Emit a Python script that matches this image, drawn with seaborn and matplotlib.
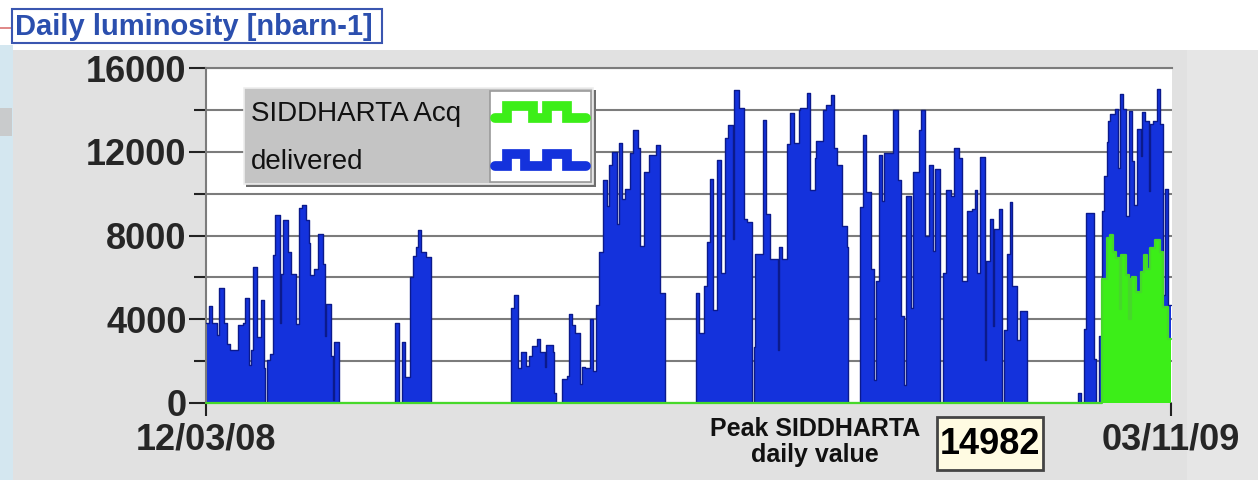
import numpy as np
import pandas as pd
import matplotlib
matplotlib.use("Agg")
import matplotlib.pyplot as plt
import seaborn as sns
from matplotlib.patches import Rectangle
from matplotlib.lines import Line2D

# ---------------- data ----------------
start_date = "2008-03-12"
end_date = "2009-11-03"

# delivered luminosity: day offset where a level starts, and the level
delivered_days = [0, 2, 4, 7, 8, 11, 13, 15, 20, 23, 24, 27, 28, 29, 32, 34, 36, 37, 38, 40, 42,
                  43, 46, 47, 48, 51, 53, 56, 58, 60, 62, 64, 65, 67, 70, 73, 74, 75, 78, 79, 80, 83,
                  118, 120, 122, 124, 127, 129, 131, 132, 134, 137, 140,
                  190, 192, 194, 196, 199, 201, 203, 206, 208, 211, 212, 216, 217, 218,
                  222, 225, 226, 228, 230, 233, 234, 236, 239, 241, 243, 245, 247, 250, 251, 253,
                  256, 257, 259, 261, 264, 266, 269, 270, 273, 276, 280, 283, 286,
                  305, 307, 310, 312, 314, 316, 318, 321, 323, 325, 328, 329, 332, 335, 337, 340,
                  341, 342, 347, 349, 351, 356, 357, 359, 362, 364, 366, 369, 370, 374, 376, 379,
                  380, 384, 386, 389, 391, 393, 396, 399, 400,
                  407, 409, 411, 414, 416, 417, 419, 421, 422, 428, 431, 433, 435, 436, 439, 440,
                  444, 445, 448, 450, 453, 454, 457, 459, 461, 464, 466, 469, 471, 474, 477, 479,
                  480, 482, 485, 486, 488, 490, 491, 494, 496, 497, 499, 501, 502, 505, 507, 511,
                  543, 545, 547, 548, 553, 554, 556, 558, 559, 561, 562, 563, 566, 568, 569, 571,
                  573, 575, 577, 578, 580, 582, 583, 585, 587, 588, 590, 592, 594, 596, 597, 599]
delivered_values = [3840, 4610, 3840, 3230, 5480, 3840, 2840, 2550, 3710, 3840, 5000, 1800, 2550, 6500, 3160, 4930, 1660, 0, 2060, 2350, 7060,
                    8970, 3840, 6180, 8760, 7190, 6180, 3760, 9290, 9450, 8760, 7630, 6100, 6390, 8070, 6660, 3190, 4730, 2230, 130, 2920, 0,
                    3810, 0, 2920, 1260, 6010, 7040, 7440, 8240, 7200, 6960, 0,
                    4550, 5160, 1690, 2450, 1770, 2230, 2740, 3060, 2450, 1740, 2770, 2450, 480, 0,
                    1130, 1290, 4230, 3710, 3350, 890, 1740, 1650, 4030, 1530, 4680, 7190, 10630, 9430, 11360, 12000,
                    8550, 12400, 9750, 10230, 11920, 13040, 12160, 7510, 11040, 11840, 12320, 5260, 0,
                    5260, 3340, 5580, 7670, 10710, 4460, 11600, 6220, 12640, 13280, 7830, 14950, 14080, 8790, 8630, 0,
                    2690, 7110, 13520, 9030, 6870, 2530, 7430, 6870, 12350, 13840, 12400, 14000, 14080, 14800, 10150, 11680,
                    12510, 14000, 14240, 14720, 12160, 11360, 8470, 7430, 0,
                    9350, 12800, 10070, 6380, 1090, 5820, 11840, 9670, 11920, 14000, 10630, 4140, 850, 9910, 4540, 11040,
                    13040, 14000, 7990, 11360, 7270, 11160, 0, 6220, 10150, 9910, 12160, 11680, 5820, 9190, 9270, 10150,
                    6220, 11760, 2050, 6790, 8790, 3660, 8310, 9270, 0, 3500, 7110, 9590, 5580, 3020, 4380, 0,
                    480, 0, 3530, 9070, 2090, 0, 3210, 9150, 10840, 12450, 13490, 13810, 14020, 11240, 14780, 14050,
                    8910, 13970, 11560, 9480, 13090, 11800, 13890, 13490, 10120, 13330, 13490, 14982, 13330, 5140, 10200, 4660]

# SIDDHARTA acquired luminosity
acq_days = [0, 558, 561, 563, 565, 567, 569, 570, 573, 575, 576, 577, 579, 582, 584, 586, 588, 591, 594, 596, 599]
acq_values = [0, 5940, 7870, 8030, 7230, 6910, 4500, 7070, 6100, 4000, 5940, 6020, 5300, 6260, 7070, 6420, 7390, 7790, 7230, 4580, 3050]

y_major = [0, 4000, 8000, 12000, 16000]
y_minor = [2000, 6000, 10000, 14000]
y_labels = ["0", "4000", "8000", "12000", "16000"]
x_labels = ["12/03/08", "03/11/09"]
legend_labels = ["SIDDHARTA Acq", "delivered"]
title = "Daily luminosity [nbarn-1]"
peak_label = "Peak SIDDHARTA\ndaily value"
peak_value = "14982"

# ---------------- style ----------------
sns.set_style("white")
plt.rcParams["font.family"] = ["Liberation Sans", "DejaVu Sans"]

BLUE = "#1432dc"
BLUE_EDGE = "#0b1a8c"
GREEN = "#3cee18"
GREEN_EDGE = "#46d82a"
GRID = "#7c7c7c"
PANEL = "#e1e1e1"

W, H = 1258, 480
fig = plt.figure(figsize=(W / 100, H / 100), dpi=100)
fig.patch.set_facecolor("white")

# background decorations (pixel coordinate canvas)
bg = fig.add_axes([0, 0, 1, 1], zorder=0)
bg.set_xlim(0, W)
bg.set_ylim(H, 0)
bg.axis("off")
bg.add_patch(Rectangle((0, 45), 13, H - 45, color="#d4e7f0", lw=0))
bg.add_patch(Rectangle((0, 108), 12, 28, color="#c9cbcc", lw=0))
bg.add_patch(Rectangle((0, 27), 11, 2, color="#e08a8a", lw=0))
bg.add_patch(Rectangle((13, 50), W - 13, H - 50, color=PANEL, lw=0))
bg.add_patch(Rectangle((1187, 50), W - 1187, H - 50, color="#e6e6e6", lw=0))

# ---------------- main chart ----------------
end_day = (pd.Timestamp(end_date) - pd.Timestamp(start_date)).days
ax = fig.add_axes([206 / W, (H - 403) / H, (1172 - 206) / W, (403 - 68) / H], zorder=1)
ax.set_facecolor("white")

dx = np.array(delivered_days + [end_day], dtype=float)
dy = np.array(delivered_values + [delivered_values[-1]], dtype=float)
gx = np.array(acq_days + [end_day], dtype=float)
gy = np.array(acq_values + [acq_values[-1]], dtype=float)

ax.fill_between(dx, dy, step="post", color=BLUE, lw=0, zorder=2)
sns.lineplot(x=dx, y=dy, drawstyle="steps-post", color=BLUE_EDGE, lw=1.0,
             estimator=None, sort=False, ax=ax, zorder=3)
ax.fill_between(gx, gy, step="post", color=GREEN, lw=0, zorder=4)
sns.lineplot(x=gx, y=gy, drawstyle="steps-post", color=GREEN_EDGE, lw=1.6,
             estimator=None, sort=False, ax=ax, zorder=5, clip_on=False)

ax.set_xlim(0, end_day + 0.6)
ax.set_ylim(0, 16000)

ax.set_yticks(y_major)
ax.set_yticks(y_minor, minor=True)
ax.set_yticklabels(y_labels, fontsize=26, fontweight="bold", family="Liberation Sans")
ax.set_xticks([0, end_day])
ax.set_xticklabels(x_labels, fontsize=26, fontweight="bold", family="Liberation Sans")
ax.set_xlabel("")
ax.set_ylabel("")

ax.yaxis.grid(True, which="both", color=GRID, lw=1.5)
ax.xaxis.grid(False)
ax.set_axisbelow(True)

ax.tick_params(axis="y", which="major", left=True, length=12.5, width=1.5, color="#222222", pad=1.5)
ax.tick_params(axis="y", which="minor", left=True, length=9, width=1.5, color="#222222")
ax.tick_params(axis="x", which="major", bottom=True, length=9, width=1.5, color="#222222", pad=5)

for side in ["right", "bottom"]:
    ax.spines[side].set_visible(False)
for side in ["left", "top"]:
    ax.spines[side].set_visible(True)
    ax.spines[side].set_color(GRID)
    ax.spines[side].set_linewidth(1.5)

# ---------------- overlay: title, legend, peak box ----------------
ov = fig.add_axes([0, 0, 1, 1], zorder=3)
ov.set_xlim(0, W)
ov.set_ylim(H, 0)
ov.axis("off")
ov.patch.set_alpha(0)

ov.add_patch(Rectangle((12, 9), 370, 34, facecolor="white", edgecolor="#3a56b0", lw=1.5))
ov.text(15, 27, title, fontsize=21, fontweight="bold", color="#2b4fae",
        va="center", ha="left", family="Liberation Sans")

# legend box
ov.add_patch(Rectangle((246, 90), 350, 97, facecolor="#6e6e6e", edgecolor="none"))
ov.add_patch(Rectangle((244, 88), 349, 96, facecolor="#c4c4c4", edgecolor="#eeeeee", lw=1.2))
ov.add_patch(Rectangle((490, 91), 101, 91, facecolor="white", edgecolor="#9a9a9a", lw=1.2))
ov.text(251, 114, legend_labels[0], fontsize=20, color="#111111", va="center", ha="left",
        family="Liberation Sans")
ov.text(251, 162, legend_labels[1], fontsize=20, color="#111111", va="center", ha="left",
        family="Liberation Sans")
ov.add_line(Line2D([495, 507, 507, 533, 533, 547, 547, 567, 567, 586],
                   [118, 118, 106, 106, 118, 118, 106, 106, 118, 118],
                   lw=7, color=GREEN, solid_joinstyle="miter"))
ov.add_line(Line2D([495, 507, 507, 525, 525, 547, 547, 567, 567, 586],
                   [166, 166, 154, 154, 166, 166, 154, 154, 166, 166],
                   lw=7, color=BLUE, solid_joinstyle="miter"))

# peak value
ov.text(815, 442, peak_label, fontsize=18, fontweight="bold", color="#111111",
        va="center", ha="center", linespacing=1.15, family="Liberation Sans")
ov.add_patch(Rectangle((937, 417), 106, 53, facecolor="#fffbe2", edgecolor="#444444", lw=2))
ov.text(990, 444, peak_value, fontsize=26, fontweight="bold", color="black",
        va="center", ha="center", family="Liberation Sans")

fig.savefig("out.png", dpi=100)
